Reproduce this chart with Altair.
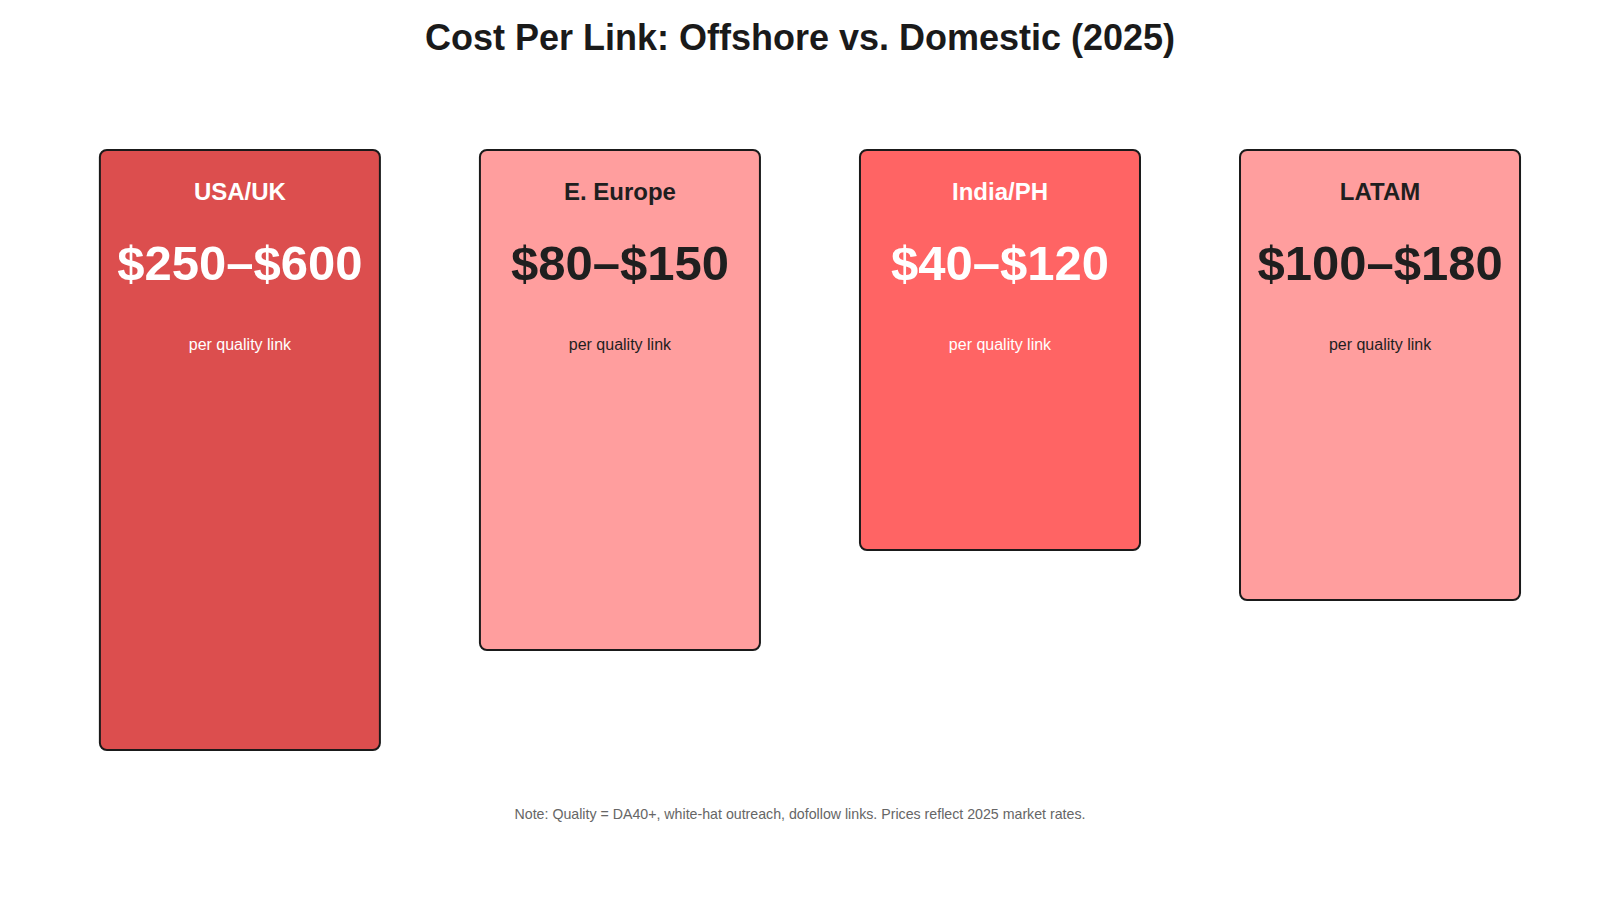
import altair as alt
import pandas as pd

# card data
regions = ["USA/UK", "E. Europe", "India/PH", "LATAM"]
price_ranges = ["$250–$600", "$80–$150", "$40–$120", "$100–$180"]
card_sizes = [600, 500, 400, 450]
fill_colors = ["#dc4e4e", "#ff9e9e", "#ff6464", "#ff9e9e"]
text_colors = ["#ffffff", "#1f1f1f", "#ffffff", "#1f1f1f"]
subtitle = "per quality link"
note = "Note: Quality = DA40+, white-hat outreach, dofollow links. Prices reflect 2025 market rates."

df = pd.DataFrame({
    "region": regions,
    "price": price_ranges,
    "size": card_sizes,
    "fill": fill_colors,
    "ink": text_colors,
    "sub": [subtitle] * len(regions),
})

FONT = "Liberation Sans"

x_enc = alt.X("region:N", sort=regions, axis=None,
              scale=alt.Scale(paddingInner=0.2632, paddingOuter=0.184, align=0.657))

base = alt.Chart(df).encode(x=x_enc)

cards = base.mark_bar(cornerRadius=7, stroke="#1a1a1a", strokeWidth=2).encode(
    y=alt.Y("size:Q", axis=None, scale=alt.Scale(domain=[0, 600], range=[0, 600])),
    y2=alt.datum(0),
    fill=alt.Fill("fill:N", scale=None),
)

labels = base.mark_text(font=FONT, fontSize=24, fontWeight="bold", baseline="alphabetic").encode(
    y=alt.value(50),
    text="region:N",
    color=alt.Color("ink:N", scale=None),
)

prices = base.mark_text(font=FONT, fontSize=49, fontWeight="bold", baseline="alphabetic").encode(
    y=alt.value(130),
    text="price:N",
    color=alt.Color("ink:N", scale=None),
)

subs = base.mark_text(font=FONT, fontSize=16, baseline="alphabetic").encode(
    y=alt.value(200),
    text="sub:N",
    color=alt.Color("ink:N", scale=None),
)

footer = alt.Chart(pd.DataFrame({"t": [note]})).mark_text(
    font=FONT, fontSize=14.2, color="#666666", baseline="middle"
).encode(
    x=alt.value(792),
    y=alt.value(665),
    text="t:N",
)

chart = alt.layer(cards, labels, prices, subs, footer).properties(
    width=1560,
    height=700,
    autosize=alt.AutoSizeParams(type="none"),
    padding={"left": 0, "top": 142, "right": 0, "bottom": 0},
    title=alt.TitleParams(
        "Cost Per Link: Offshore vs. Domestic (2025)",
        font=FONT, fontSize=36, fontWeight="bold", color="#1a1a1a",
        anchor="middle", offset=91, dx=12,
    ),
).configure_view(stroke=None)

chart.save("out.html", embed_options={"renderer": "svg", "actions": False})
